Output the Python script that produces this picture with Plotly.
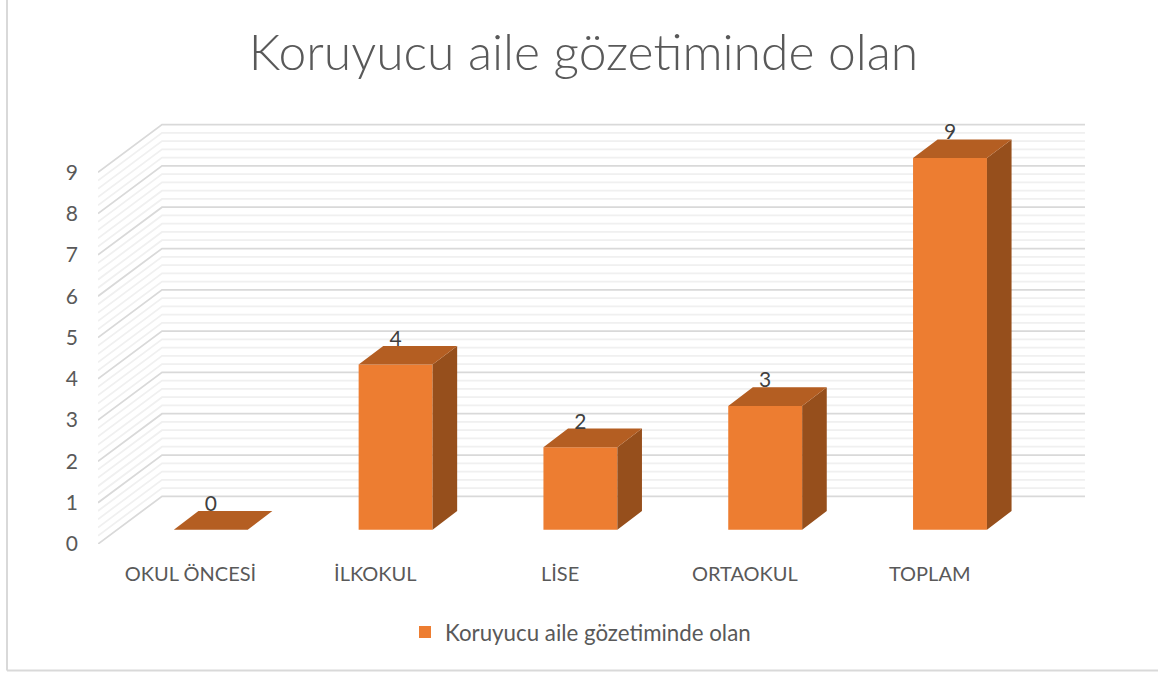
import numpy as np
import plotly.graph_objects as go

TITLE = "Koruyucu aile gözetiminde olan"
categories = ["OKUL ÖNCESİ", "İLKOKUL", "LİSE", "ORTAOKUL", "TOPLAM"]
values = [0, 4, 2, 3, 9]
y_ticks = [0, 1, 2, 3, 4, 5, 6, 7, 8, 9]

W, H = 1158, 677
FONT = "Lato, Carlito, Calibri, sans-serif"
TEXT = "#595959"

# pixel geometry of the oblique projection
L, R, T, B = 98, 1085, 100, 544
UNIT_Y = 41.3
STEP_X = 184.8
X0_FRONT = 190.5      # pixel of category 0 on the front plane
X0_BAR = 210.8        # pixel of category 0 on the bars' front face
Y0_BAR = 529.8        # pixel of value 0 on the bars' front face
WALL_DX, WALL_DY = 64 / STEP_X, 47.7 / UNIT_Y
BAR_DX, BAR_DY = 24.6 / STEP_X, 18.7 / UNIT_Y
BAR_W = 0.4

x_range = [(L - X0_FRONT) / STEP_X, (R - X0_FRONT) / STEP_X]
y_range = [0, (B - T) / UNIT_Y]
x2_range = [(L - X0_BAR) / STEP_X, (R - X0_BAR) / STEP_X]
y2_low = (Y0_BAR - B) / UNIT_Y
y2_range = [y2_low, y2_low + (B - T) / UNIT_Y]

fig = go.Figure()


def wall_lines(levels):
    xs, ys = [], []
    for v in levels:
        xs += [x_range[0], x_range[0] + WALL_DX, x_range[1], None]
        ys += [v, v + WALL_DY, v + WALL_DY, None]
    return xs, ys


minor = [v for v in np.arange(0, y_ticks[-1], 0.2) if abs(v - round(v)) > 1e-6]
mx, my = wall_lines(minor)
fig.add_trace(go.Scatter(x=mx, y=my, mode="lines", line=dict(color="#f0f0f0", width=1.75),
                         hoverinfo="skip", showlegend=False))
gx, gy = wall_lines(y_ticks)
fig.add_trace(go.Scatter(x=gx, y=gy, mode="lines", line=dict(color="#d9d9d9", width=1.75),
                         hoverinfo="skip", showlegend=False))

idx = list(range(len(categories)))

# front faces
fig.add_trace(go.Bar(x=idx, y=values, width=BAR_W, xaxis="x2", yaxis="y2", name=TITLE,
                     marker=dict(color="#ED7D31", line=dict(width=0)), hoverinfo="skip"))

# top and side faces
tx, ty, sx, sy = [], [], [], []
for i, v in zip(idx, values):
    a, b = i - BAR_W / 2, i + BAR_W / 2
    tx += [a, b, b + BAR_DX, a + BAR_DX, a, None]
    ty += [v, v, v + BAR_DY, v + BAR_DY, v, None]
    if v > 0:
        sx += [b, b + BAR_DX, b + BAR_DX, b, b, None]
        sy += [0, BAR_DY, v + BAR_DY, v, 0, None]
fig.add_trace(go.Scatter(x=sx, y=sy, mode="lines", fill="toself", fillcolor="#964F1C",
                         line=dict(width=0), xaxis="x2", yaxis="y2",
                         hoverinfo="skip", showlegend=False))
fig.add_trace(go.Scatter(x=tx, y=ty, mode="lines", fill="toself", fillcolor="#B45E22",
                         line=dict(width=0), xaxis="x2", yaxis="y2",
                         hoverinfo="skip", showlegend=False))

# value labels
fig.add_trace(go.Scatter(x=idx, y=[v + 0.58 for v in values], mode="text",
                         text=[str(v) for v in values], textposition="middle center",
                         textfont=dict(family=FONT, size=21, color="#404040"),
                         xaxis="x2", yaxis="y2", hoverinfo="skip", showlegend=False))

px = lambda p: (p - L) / (R - L)
py = lambda p: (B - p) / (B - T)
border = dict(type="line", xref="paper", yref="paper", line=dict(color="#d9d9d9", width=2))

fig.update_layout(
    width=W, height=H,
    margin=dict(l=L, r=W - R, t=T, b=H - B, pad=0),
    autosize=False,
    paper_bgcolor="white", plot_bgcolor="rgba(0,0,0,0)",
    font=dict(family=FONT, color=TEXT, size=20),
    title=dict(text=TITLE, x=583.5 / W, y=1 - 53 / H, xanchor="center", yanchor="middle",
               xref="container",
               font=dict(family=FONT, size=49.8, color=TEXT, weight=300)),
    barmode="overlay",
    showlegend=True,
    legend=dict(x=px(405), y=py(632), xanchor="left", yanchor="middle", orientation="h",
                font=dict(family=FONT, size=22.3, color=TEXT), bgcolor="rgba(0,0,0,0)"),
    xaxis=dict(range=x_range, tickmode="array", tickvals=idx, ticktext=categories,
               showgrid=False, zeroline=False, showline=False, ticks="",
               ticklabelstandoff=16, tickfont=dict(family=FONT, size=20, color=TEXT),
               tickangle=0, fixedrange=True),
    yaxis=dict(range=y_range, tickmode="array", tickvals=y_ticks, ticktext=[str(v) for v in y_ticks],
               showgrid=False, zeroline=False, showline=False, ticks="",
               ticklabelstandoff=19, tickfont=dict(family=FONT, size=21, color=TEXT),
               fixedrange=True),
    xaxis2=dict(range=x2_range, overlaying="x", anchor="y2", visible=False, fixedrange=True),
    yaxis2=dict(range=y2_range, overlaying="y", anchor="x2", visible=False, fixedrange=True),
    shapes=[
        dict(border, x0=px(7), x1=px(7), y0=py(0), y1=py(670.5)),
        dict(border, x0=px(7), x1=px(1158), y0=py(670.5), y1=py(670.5)),
    ],
)

fig.write_html("out.html", config={"displayModeBar": False},
               post_script="document.body.style.margin='0';")
